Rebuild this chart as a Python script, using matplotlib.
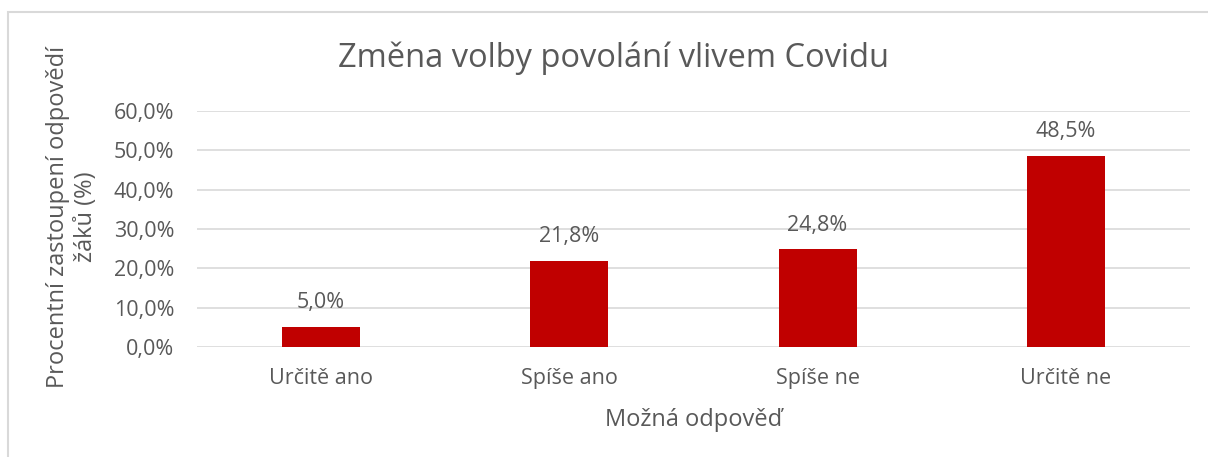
import numpy as np
import matplotlib.pyplot as plt
from matplotlib.patches import Rectangle

# data
categories = ['Určitě ano', 'Spíše ano', 'Spíše ne', 'Určitě ne']
values = [0.050, 0.218, 0.248, 0.485]
labels = ['5,0%', '21,8%', '24,8%', '48,5%']
yticks = [0.0, 0.1, 0.2, 0.3, 0.4, 0.5, 0.6]
ytick_labels = ['0,0%', '10,0%', '20,0%', '30,0%', '40,0%', '50,0%', '60,0%']

plt.rcParams['font.family'] = ['Open Sans', 'DejaVu Sans']
txt = '#595959'

fig = plt.figure(figsize=(12.08, 4.57), dpi=100)
ax = fig.add_axes([197 / 1208, 1 - 347 / 457, (1190 - 197) / 1208, (347 - 111) / 457])

# chart border (light gray, like the Excel chart area)
fig.patches.append(Rectangle((8 / 1208, -0.01), 1.05, 1 - 12 / 457 + 0.01,
                             transform=fig.transFigure, fill=False,
                             edgecolor='#d9d9d9', lw=1.5))

x = np.arange(len(categories))
ax.bar(x, values, width=0.315, color='#C00000', zorder=3)
for xi, v, lab in zip(x, values, labels):
    ax.annotate(lab, (xi, v), xytext=(0, 10), textcoords='offset points',
                ha='center', va='bottom', fontsize=15.5, color=txt)

ax.set_xlim(-0.5, len(categories) - 0.5)
ax.set_ylim(0, 0.6)
ax.set_yticks(yticks)
ax.set_yticklabels(ytick_labels)
ax.set_xticks(x)
ax.set_xticklabels(categories)
ax.tick_params(axis='both', length=0, labelsize=15.5, colors=txt)
ax.tick_params(axis='y', pad=16.5)
ax.tick_params(axis='x', pad=15)
ax.grid(axis='y', color='#d9d9d9', lw=1.2, zorder=0)
for s in ax.spines.values():
    s.set_visible(False)

ax.set_xlabel('Možná odpověď', fontsize=17, color=txt, labelpad=14)
ax.set_ylabel('Procentní zastoupení odpovědí\nžáků (%)', fontsize=17, color=txt,
              linespacing=1.25, va='center')
ax.yaxis.set_label_coords(-0.126, 0.55)
fig.text(614 / 1208, 1 - 58 / 457, 'Změna volby povolání vlivem Covidu',
         ha='center', va='center', fontsize=23.5, color=txt)

fig.savefig('out.png', dpi=100)
